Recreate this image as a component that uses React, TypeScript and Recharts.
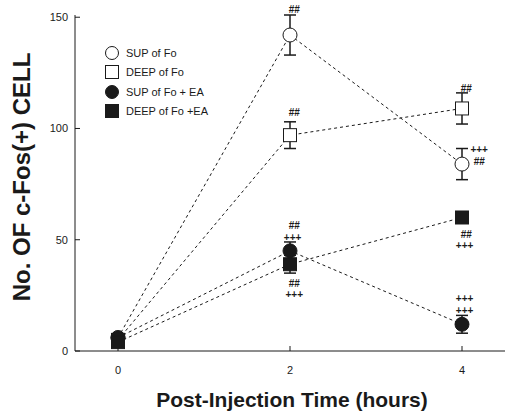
import React from 'react';
import {
  LineChart,
  Line,
  XAxis,
  YAxis,
  ErrorBar,
  ReferenceDot,
} from 'recharts';

// hours after injection
const times = [0, 2, 4];

// mean counts per group
const supFo = [6, 142, 84];
const supFoErr = [0, 9, 7];
const deepFo = [5, 97, 109];
const deepFoErr = [0, 6, 7];
const supFoEa = [6, 45, 12];
const supFoEaErr = [0, 4, 4];
const deepFoEa = [4, 39, 60];
const deepFoEaErr = [0, 4, 2];

const yTicks = [0, 50, 100, 150];

// significance marks (data coords)
const markX = [2.05, 2.05, 4.05, 4.2, 4.2, 2.05, 2.03, 2.05, 2.05, 4.05, 4.03, 4.03, 4.03];
const markY = [153.5, 107, 118, 90.5, 85, 56.5, 51, 30.5, 25.5, 52.5, 47.3, 23.7, 18.3];
const markText = ['##', '##', '##', '+++', '##', '##', '+++', '##', '+++', '##', '+++', '+++', '+++'];

const rows = times.map((t, i) => ({
  t,
  supFo: supFo[i],
  supFoErr: supFoErr[i],
  deepFo: deepFo[i],
  deepFoErr: deepFoErr[i],
  supFoEa: supFoEa[i],
  supFoEaErr: supFoEaErr[i],
  deepFoEa: deepFoEa[i],
  deepFoEaErr: deepFoEaErr[i],
}));

const INK = '#1a1a1a';
const FONT = '"Liberation Sans", Arial, sans-serif';

const squareDot = (fill: string) => (props: any) => {
  const { cx, cy, index } = props;
  if (cx == null || cy == null) return <g key={index} />;
  return (
    <rect
      key={index}
      x={cx - 6.5}
      y={cy - 6.5}
      width={13}
      height={13}
      fill={fill}
      stroke={INK}
      strokeWidth={1}
    />
  );
};

const legendItems = [
  { label: 'SUP of Fo', shape: 'circle', fill: '#fff' },
  { label: 'DEEP of Fo', shape: 'square', fill: '#fff' },
  { label: 'SUP of Fo + EA', shape: 'circle', fill: INK },
  { label: 'DEEP of Fo +EA', shape: 'square', fill: INK },
];

const LegendBox = () => (
  <div
    style={{
      position: 'absolute',
      left: 104,
      top: 43,
      fontFamily: FONT,
      fontSize: 11,
      color: INK,
    }}
  >
    {legendItems.map((it) => (
      <div key={it.label} style={{ display: 'flex', alignItems: 'center', height: 19.5 }}>
        <svg width={16} height={16} style={{ marginRight: 6 }}>
          {it.shape === 'circle' ? (
            <circle cx={8} cy={8} r={6.5} fill={it.fill} stroke={INK} />
          ) : (
            <rect x={1.5} y={1.5} width={13} height={13} fill={it.fill} stroke={INK} />
          )}
        </svg>
        <span>{it.label}</span>
      </div>
    ))}
  </div>
);

export default function App() {
  return (
    <div style={{ position: 'absolute', left: 0, top: 0, background: '#fff' }}>
      <LineChart
        width={508}
        height={412}
        data={rows}
        margin={{ top: 15, right: 3, bottom: 31, left: 15 }}
      >
        <XAxis
          dataKey="t"
          type="number"
          domain={[-0.5, 4.5]}
          ticks={times}
          stroke={INK}
          tickSize={-5}
          tickMargin={20}
          height={30}
          tick={{ fill: INK, fontSize: 11, fontFamily: FONT }}
          label={{
            content: () => (
              <text
                x={292}
                y={407}
                textAnchor="middle"
                fontFamily={FONT}
                fontWeight={700}
                fontSize={21}
                fill={INK}
              >
                Post-Injection Time (hours)
              </text>
            ),
          }}
        />
        <YAxis
          type="number"
          domain={[0, 150]}
          ticks={yTicks}
          width={60}
          stroke={INK}
          tickSize={-5}
          tickMargin={12}
          tick={{ fill: INK, fontSize: 11, fontFamily: FONT }}
          label={{
            content: () => (
              <text
                x={30}
                y={177}
                transform="rotate(-90 30 177)"
                textAnchor="middle"
                fontFamily={FONT}
                fontWeight={700}
                fontSize={24}
                fill={INK}
              >
                No. OF c-Fos(+) CELL
              </text>
            ),
          }}
        />
        <Line
          dataKey="supFo"
          name="SUP of Fo"
          stroke={INK}
          strokeDasharray="3 3"
          isAnimationActive={false}
          dot={{ r: 7, fill: '#fff', stroke: INK, strokeWidth: 1, strokeDasharray: '0' }}
        >
          <ErrorBar dataKey="supFoErr" width={6} stroke={INK} direction="y" />
        </Line>
        <Line
          dataKey="deepFo"
          name="DEEP of Fo"
          stroke={INK}
          strokeDasharray="3 3"
          isAnimationActive={false}
          dot={squareDot('#fff')}
        >
          <ErrorBar dataKey="deepFoErr" width={6} stroke={INK} direction="y" />
        </Line>
        <Line
          dataKey="supFoEa"
          name="SUP of Fo + EA"
          stroke={INK}
          strokeDasharray="3 3"
          isAnimationActive={false}
          dot={{ r: 7, fill: INK, stroke: INK, strokeWidth: 1, strokeDasharray: '0' }}
        >
          <ErrorBar dataKey="supFoEaErr" width={6} stroke={INK} direction="y" />
        </Line>
        <Line
          dataKey="deepFoEa"
          name="DEEP of Fo +EA"
          stroke={INK}
          strokeDasharray="3 3"
          isAnimationActive={false}
          dot={squareDot(INK)}
        >
          <ErrorBar dataKey="deepFoEaErr" width={6} stroke={INK} direction="y" />
        </Line>
        {markText.map((txt, i) => (
          <ReferenceDot
            key={i}
            x={markX[i]}
            y={markY[i]}
            r={0}
            ifOverflow="visible"
            label={{
              value: txt,
              position: 'center',
              fontSize: 10,
              fontWeight: 700,
              fontFamily: FONT,
              fill: INK,
            }}
          />
        ))}
      </LineChart>
      <LegendBox />
    </div>
  );
}
